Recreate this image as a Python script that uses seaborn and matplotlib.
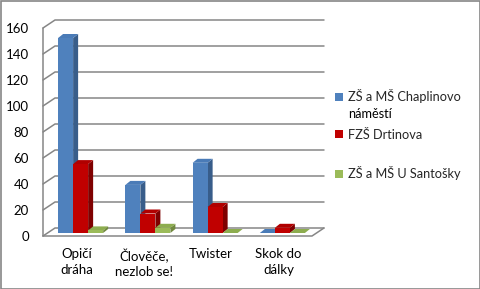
import numpy as np
import pandas as pd
import seaborn as sns
import matplotlib
matplotlib.use("Agg")
import matplotlib.pyplot as plt
from matplotlib.patches import Polygon, Rectangle, Patch
from matplotlib.transforms import ScaledTranslation

categories = ["Opičí\ndráha", "Člověče,\nnezlob se!", "Twister", "Skok do\ndálky"]
series = ["ZŠ a MŠ Chaplinovo\nnáměstí", "FZŠ Drtinova", "ZŠ a MŠ U Santošky"]
chaplinovo = [150, 37, 54, 0]
drtinova = [53, 15, 20, 4]
santosky = [2, 4, 0, 0]
yticks = [0, 20, 40, 60, 80, 100, 120, 140, 160]

front_colors = ["#4F81BD", "#C00000", "#9BBB59"]
side_colors = ["#385D8A", "#7F0000", "#71893F"]
top_colors = ["#4A7BB7", "#B00000", "#8DAD4F"]
grid_color = "#868686"

df = pd.DataFrame({
    "cat": categories * 3,
    "series": [series[0]] * 4 + [series[1]] * 4 + [series[2]] * 4,
    "val": chaplinovo + drtinova + santosky,
})

sns.set_style("white")
plt.rcParams["font.family"] = ["Lato", "DejaVu Sans"]

W, H = 481, 289
fig = plt.figure(figsize=(W / 100, H / 100), dpi=100)
ax = fig.add_axes([43 / W, (H - 236) / H, 269 / W, 208 / H])

sns.barplot(data=df, x="cat", y="val", hue="series", palette=front_colors,
            width=0.67, saturation=1, ax=ax, legend=False, linewidth=0)

ax.set_xlim(-0.5, 3.5)
ax.set_ylim(0, 160)
xmin, xmax = -0.5, 3.5
px_x = 269 / 4.0
px_y = 208 / 160.0

# back wall / floor
gx, gy = 12 / px_x, 8 / px_y
for v in yticks:
    ax.plot([xmin, xmin + gx, xmax + gx], [v, v + gy, v + gy], color=grid_color,
            lw=1.1, clip_on=False, zorder=0.5)
ax.plot([xmin, xmax, xmax + gx], [0, 0, gy], color=grid_color, lw=1.1,
        clip_on=False, zorder=0.6)
ax.plot([xmin, xmin], [0, 160], color=grid_color, lw=1.1, clip_on=False, zorder=0.6)

# 3D faces on bars
bar_off = ScaledTranslation(4 / 100, 3 / 100, fig.dpi_scale_trans)
dx, dy = 5 / px_x, 4 / px_y
for i, cont in enumerate(ax.containers):
    z = 3 + i
    for p in cont.patches:
        x, w, h = p.get_x(), p.get_width(), p.get_height()
        p.set_transform(ax.transData + bar_off)
        p.set_clip_on(False)
        p.set_zorder(z + 0.1)
        side = Polygon([(x + w, 0), (x + w + dx, dy), (x + w + dx, h + dy), (x + w, h)],
                       closed=True, facecolor=side_colors[i], edgecolor="none",
                       transform=ax.transData + bar_off, clip_on=False, zorder=z)
        top = Polygon([(x, h), (x + w, h), (x + w + dx, h + dy), (x + dx, h + dy)],
                      closed=True, facecolor=top_colors[i], edgecolor="none",
                      transform=ax.transData + bar_off, clip_on=False, zorder=z)
        ax.add_patch(side)
        ax.add_patch(top)

for s in ax.spines.values():
    s.set_visible(False)

ax.set_xlabel("")
ax.set_ylabel("")
ax.set_yticks(yticks)
ax.set_yticklabels([str(v) for v in yticks])
ax.set_xticks(range(4))
ax.set_xticklabels(categories)
ax.set_xticks([-0.5, 0.5, 1.5, 2.5, 3.5], minor=True)
ax.tick_params(axis="x", which="major", length=0, pad=9, labelsize=9.5, labelcolor="#000000")
ax.tick_params(axis="x", which="minor", length=4, color=grid_color, width=1.1)
ax.tick_params(axis="y", length=4, color=grid_color, width=1.1, pad=6,
               labelsize=9.5, labelcolor="#000000")
for t in ax.get_xticklabels():
    t.set_linespacing(1.3)

# legend: single-line labels, second line of the first label added below it
first_lines = [s.split("\n")[0] for s in series]
handles = [Patch(facecolor=c, edgecolor="none") for c in front_colors]
leg = fig.legend(handles, first_lines, loc="upper left",
                 bbox_to_anchor=(330 / W, (H - 84) / H),
                 frameon=False, fontsize=9.2, handlelength=0.6, handleheight=0.6,
                 handletextpad=0.4, labelspacing=2.0, borderaxespad=0)
fig.canvas.draw()
t0 = leg.get_texts()[0]
bb = t0.get_window_extent()
x0, y0 = fig.transFigure.inverted().transform((bb.x0, bb.y0))
fig.text(x0, y0 - 5 / H, series[0].split("\n")[1], fontsize=9.2, ha="left", va="top",
         color="#000000")

fig.patches.append(Rectangle((0.5 / W, 0.5 / H), 1 - 1.5 / W, 1 - 1.5 / H,
                             transform=fig.transFigure, fill=False,
                             edgecolor=grid_color, lw=1.2))

fig.savefig("out.png", dpi=100)
